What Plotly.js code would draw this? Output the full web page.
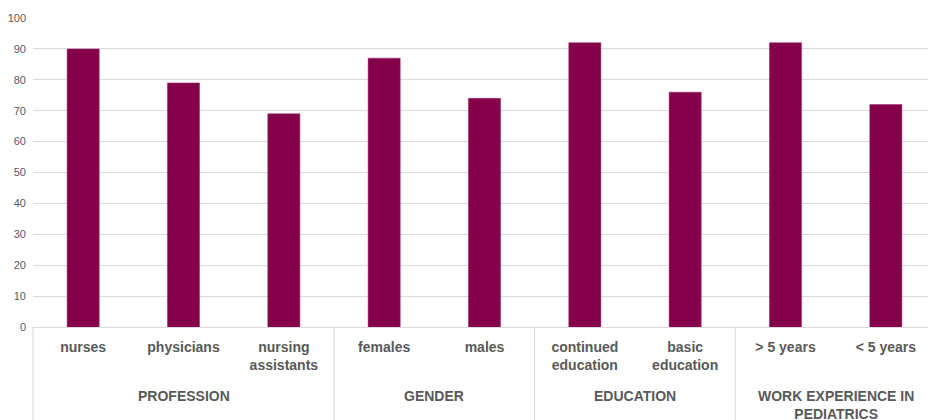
<!DOCTYPE html>
<html><head><meta charset="utf-8">
<script src="https://cdn.plot.ly/plotly-3.0.1.min.js"></script>
<style>html,body{margin:0;padding:0;background:#fff;overflow:hidden;width:928px;height:420px}#chart{width:936px;height:420px}</style>
</head><body><div id="chart"></div>
<script>
const categories = ["nurses","physicians","nursing<br>assistants","females","males","continued<br>education","basic<br>education","> 5 years","< 5 years"];
const values = [90,79,69,87,74,92,76,92,72];
const groupNames = ["PROFESSION","GENDER","EDUCATION","WORK EXPERIENCE IN<br>PEDIATRICS"];
const groupSizes = [3,2,2,2];
const yTicks = [0,10,20,30,40,50,60,70,80,90,100];

// group centers and boundaries from category indices
const annotations = [];
const shapes = [];
let start = 0;
groupNames.forEach((g, i) => {
  const n = groupSizes[i];
  annotations.push({
    text: g, xref: 'x', x: start + (n - 1) / 2, yref: 'paper', y: -0.19,
    yanchor: 'top', xanchor: 'center', showarrow: false,
    font: {family: 'Liberation Sans, Arial, sans-serif', size: 14, color: '#595959', weight: 'bold'}
  });
  if (start > 0) {
    shapes.push({type: 'line', xref: 'x', x0: start - 0.5, x1: start - 0.5,
      yref: 'paper', y0: 0, y1: -0.35, line: {color: '#D9D9D9', width: 1}});
  }
  start += n;
});
shapes.push({type: 'line', xref: 'x domain', x0: 0, x1: 0,
  yref: 'paper', y0: 0, y1: -0.35, line: {color: '#D9D9D9', width: 1}});

Plotly.newPlot('chart', [{
  type: 'bar',
  x: categories,
  y: values,
  marker: {color: '#85004B', line: {color: '#9a2a6a', width: 0.5}},
  hoverinfo: 'none'
}], {
  width: 936, height: 420,
  margin: {l: 33, r: 0, t: 18, b: 93},
  paper_bgcolor: '#fff', plot_bgcolor: '#fff',
  bargap: 0.68,
  showlegend: false,
  font: {family: 'Liberation Sans, Arial, sans-serif', color: '#595959'},
  annotations: annotations,
  shapes: shapes,
  xaxis: {
    type: 'category',
    automargin: false,
    showline: true, linecolor: '#D9D9D9', linewidth: 1,
    showgrid: false,
    ticks: '',
    tickangle: 0,
    ticklabelstandoff: 7,
    tickfont: {family: 'Liberation Sans, Arial, sans-serif', size: 14, color: '#595959', weight: 'bold'}
  },
  yaxis: {
    range: [0, 100],
    tickvals: yTicks,
    automargin: false,
    showgrid: true, gridcolor: '#D9D9D9', gridwidth: 1,
    zeroline: false, showline: false, ticks: '',
    ticklabelstandoff: 6,
    tickfont: {family: 'Liberation Sans, Arial, sans-serif', size: 11, color: '#595959'}
  }
}, {staticPlot: true});
</script></body></html>
